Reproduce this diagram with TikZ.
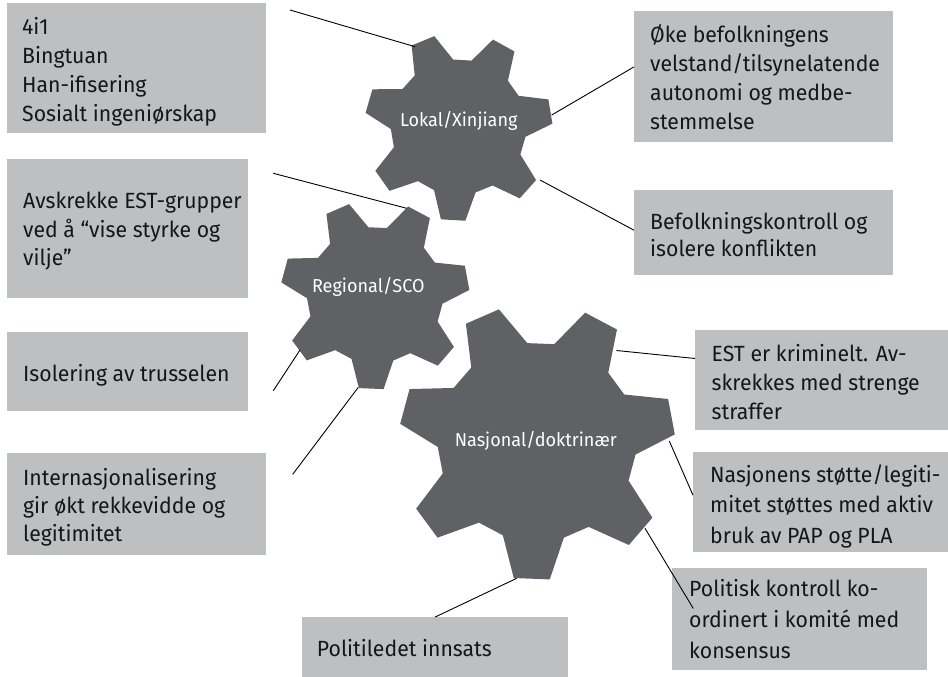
\documentclass[tikz,border=0pt]{standalone}
\usepackage{fontspec}
\setmainfont{Fira Sans}[FakeStretch=0.965]
\definecolor{boxgray}{RGB}{190,191,193}
\definecolor{gearfill}{RGB}{95,97,101}
\definecolor{ink}{RGB}{22,22,22}
\tikzset{
  box/.style={fill=boxgray, draw=none, inner sep=0pt, anchor=north west},
  txt/.style={anchor=base west, inner sep=0pt, text=ink, font=\fontsize{22}{#1}\selectfont},
  txt/.default=29,
  geartxt/.style={anchor=base, inner sep=0pt, text=white, font=\fontsize{18.7}{22}\selectfont},
  conn/.style={draw=black, line width=0.9pt},
  pics/gear/.style 2 args={code={
     \fill[gearfill] (90+#2+17.9:0.72*#1)
       \foreach \k in {0,...,6}{
         -- (90+#2-\k*51.4286+17.9:0.72*#1)
         -- (90+#2-\k*51.4286+7.5:#1)
         -- (90+#2-\k*51.4286-7.5:#1)
         -- (90+#2-\k*51.4286-17.9:0.72*#1)
       } -- cycle;
  }}
}
\begin{document}
\begin{tikzpicture}[x=1pt,y=-1pt]
\useasboundingbox (0,0) rectangle (948,677);

% gears
\pic at (458.5,127) {gear={94}{3.3}};
\pic at (375,295) {gear={94.5}{2.3}};
\pic at (537,442) {gear={138}{2.2}};
\node[geartxt] (g1) at (458.8,126) {Lokal/Xinjiang};
\node[geartxt] (g2) at (368.3,292.7) {Regional/SCO};
\node[geartxt] (g3) at (535.8,446.7) {Nasjonal/doktrinær};

% boxes
\node[box, minimum width=259pt, minimum height=130pt] (A) at (7,3) {};
\node[box, minimum width=241pt, minimum height=139pt] (B) at (7,159) {};
\node[box, minimum width=259pt, minimum height=131pt] (C) at (634,11) {};
\node[box, minimum width=259pt, minimum height=85pt] (D) at (634,190) {};
\node[box, minimum width=241pt, minimum height=79pt] (E) at (7,332) {};
\node[box, minimum width=259pt, minimum height=102pt] (F) at (7,453) {};
\node[box, minimum width=253pt, minimum height=100pt] (G) at (695,330) {};
\node[box, minimum width=255pt, minimum height=100pt] (H) at (693,452) {};
\node[box, minimum width=255pt, minimum height=102pt] (I) at (672,568) {};
\node[box, minimum width=266pt, minimum height=60pt] (J) at (302,617) {};

% texts
\node[txt=29] (tA) at (22,34.5) {\begin{tabular}[t]{@{}l@{}}4i1\\Bingtuan\\Han-ifisering\\Sosialt ingeniørskap\end{tabular}};
\node[txt=28.5] (tB) at (23,208.5) {\begin{tabular}[t]{@{}l@{}}Avskrekke EST-grupper\\ved å “vise styrke og\\vilje”\end{tabular}};
\node[txt=28.9] (tC) at (650,43) {\begin{tabular}[t]{@{}l@{}}Øke befolkningens\\velstand/tilsynelatende\\autonomi og medbe-\\stemmelse\end{tabular}};
\node[txt=27.7] (tD) at (650,229) {\begin{tabular}[t]{@{}l@{}}Befolkningskontroll og\\isolere konflikten\end{tabular}};
\node[txt] (tE) at (23,381) {Isolering av trusselen};
\node[txt=28] (tF) at (23,485.7) {\begin{tabular}[t]{@{}l@{}}Internasjonalisering\\gir økt rekkevidde og\\legitimitet\end{tabular}};
\node[txt=28.8] (tG) at (711.5,361.7) {\begin{tabular}[t]{@{}l@{}}EST er kriminelt. Av-\\skrekkes med strenge\\straffer\end{tabular}};
\node[txt=30.4] (tH) at (710,482.5) {\begin{tabular}[t]{@{}l@{}}Nasjonens støtte/legiti-\\mitet støttes med aktiv\\bruk av PAP og PLA\end{tabular}};
\node[txt=31] (tI) at (689,596.5) {\begin{tabular}[t]{@{}l@{}}Politisk kontroll ko-\\ordinert i komité med\\konsensus\end{tabular}};
\node[txt] (tJ) at (316.7,656.7) {Politiledet innsats};

% connector anchor points
\coordinate (fA) at (290,10);
\coordinate (fB) at (273.3,173.3);
\coordinate (fE) at (273.3,390.7);
\coordinate (fF) at (292.7,474.3);
\coordinate (p1) at (415,46.7);
\coordinate (p2) at (551.7,115);
\coordinate (p3) at (540,180);
\coordinate (p4) at (406.7,208.3);
\coordinate (p5) at (300,350);
\coordinate (p6) at (358.3,387.3);
\coordinate (p7) at (616.5,350.5);
\coordinate (p8) at (669.3,441);
\coordinate (p9) at (645,528.3);
\coordinate (p10) at (516.7,578.3);

% connectors
\draw[conn] (fA) -- (p1);
\draw[conn] (p2) -- ([yshift=9.8pt]C.west);
\draw[conn] (p3) -- ([yshift=2.5pt]D.west);
\draw[conn] (fB) -- (p4);
\draw[conn] (p5) -- (fE);
\draw[conn] (p6) -- (fF);
\draw[conn] (p7) -- ([yshift=21.7pt]G.west);
\draw[conn] (p8) -- ([yshift=7pt]H.west);
\draw[conn] (p9) -- ([xshift=21.3pt,yshift=10.7pt]I.west);
\draw[conn] (p10) -- (J.north);
\end{tikzpicture}
\end{document}
